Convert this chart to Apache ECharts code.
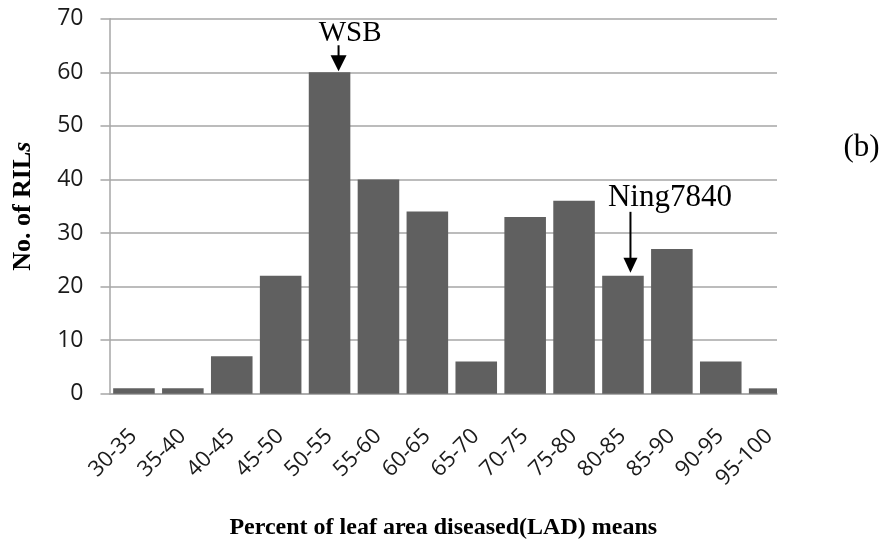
<!DOCTYPE html>
<html>
<head>
<meta charset="utf-8">
<script src="https://cdn.jsdelivr.net/npm/echarts@6/dist/echarts.min.js"></script>
<style>html,body{margin:0;padding:0;background:#fff;}#c{width:883px;height:548px;}</style>
</head>
<body>
<div id="c"></div>
<script>
var categories = ['30-35','35-40','40-45','45-50','50-55','55-60','60-65','65-70','70-75','75-80','80-85','85-90','90-95','95-100'];
var counts = [1, 1, 7, 22, 60, 40, 34, 6, 33, 36, 22, 27, 6, 1];
var yTicks = [0, 10, 20, 30, 40, 50, 60, 70];
var annotations = [
  {text: 'WSB', index: 4},
  {text: 'Ning7840', index: 10}
];

var chart = echarts.init(document.getElementById('c'), null, {renderer: 'canvas'});
var barData = counts.map(function (v, i) { return [i, v]; });
var LABEL_SHIFT = -0.01;

function renderBar(params, api) {
  var x = api.value(0), v = api.value(1);
  var top = api.coord([x, v]);
  var base = api.coord([x, 0]);
  var w = api.size([1, 0])[0] * 0.85;
  var cs = params.coordSys;
  var rect = echarts.graphic.clipRectByRect(
    {x: top[0] - w / 2, y: top[1], width: w, height: base[1] - top[1]},
    {x: cs.x, y: cs.y, width: cs.width, height: cs.height}
  );
  if (!rect) return null;
  return {type: 'rect', shape: rect, style: {fill: '#606060'}};
}

chart.setOption({
  animation: false,
  backgroundColor: '#fff',
  grid: {left: 109.5, right: 106, top: 18.7, bottom: 154.3, containLabel: false},
  xAxis: {
    type: 'value',
    min: -0.5,
    max: 13.15,
    splitLine: {show: false},
    axisTick: {show: false},
    axisLine: {show: true, lineStyle: {color: '#a6a6a6', width: 1.5}},
    axisLabel: {
      customValues: categories.map(function (c, i) { return i + LABEL_SHIFT; }),
      formatter: function (v) { return categories[Math.round(v)]; },
      rotate: 45,
      margin: 39,
      fontFamily: 'Open Sans',
      fontSize: 22,
      color: '#1a1a1a'
    },
    name: 'Percent of leaf area diseased(LAD) means',
    nameLocation: 'middle',
    nameGap: 122,
    nameTextStyle: {fontFamily: 'Liberation Serif', fontWeight: 'bold', fontSize: 24, color: '#000'}
  },
  yAxis: {
    type: 'value',
    min: 0,
    max: 70,
    interval: 10,
    axisLine: {show: true, onZero: false, lineStyle: {color: '#a6a6a6', width: 1.5}},
    axisTick: {show: true, inside: false, length: 9, lineStyle: {color: '#a6a6a6', width: 1.5}},
    splitLine: {show: true, lineStyle: {color: '#a6a6a6', width: 1.5}},
    axisLabel: {
      margin: 26,
      fontFamily: 'Open Sans',
      fontSize: 23,
      color: '#1a1a1a',
      formatter: function (v) { return yTicks.indexOf(v) >= 0 ? String(v) : ''; }
    },
    name: '{a|No. of RIL}{b|s}',
    nameLocation: 'middle',
    nameGap: 73,
    nameTextStyle: {
      rich: {
        a: {fontFamily: 'Liberation Serif', fontWeight: 'bold', fontSize: 26, color: '#000'},
        b: {fontFamily: 'Liberation Serif', fontWeight: 'bold', fontStyle: 'italic', fontSize: 26, color: '#000'}
      }
    }
  },
  series: [{
    type: 'custom',
    data: barData,
    encode: {x: 0, y: 1},
    renderItem: renderBar
  }]
});

function drawAnnotations() {
  var els = [];
  var cfg = [
    {dx: 9, tipGap: 1, len: 26, headH: 16, headW: 16, tx: 20.5, ty: 39, size: 29},
    {dx: 7.5, tipGap: 3, len: 61, headH: 15, headW: 14, tx: 47, ty: 78, size: 31}
  ];
  annotations.forEach(function (a, k) {
    var c = cfg[k];
    var p = chart.convertToPixel({xAxisIndex: 0, yAxisIndex: 0}, [a.index, counts[a.index]]);
    var x = p[0] + c.dx, tip = p[1] - c.tipGap;
    els.push({type: 'line', shape: {x1: x, y1: tip - c.len, x2: x, y2: tip - c.headH + 1}, style: {stroke: '#000', lineWidth: 2}});
    els.push({type: 'polygon', shape: {points: [[x - c.headW / 2, tip - c.headH], [x + c.headW / 2, tip - c.headH], [x, tip]]}, style: {fill: '#000'}});
    els.push({type: 'text', x: p[0] + c.tx, y: p[1] - c.ty, style: {text: a.text, fontFamily: 'Liberation Serif', fontSize: c.size, fill: '#000', align: 'center', verticalAlign: 'middle'}});
  });
  els.push({type: 'text', x: 861.5, y: 148, style: {text: '(b)', fontFamily: 'Liberation Serif', fontSize: 31, fill: '#000', align: 'center', verticalAlign: 'middle'}});
  chart.setOption({graphic: els});
}
drawAnnotations();
</script>
</body>
</html>
